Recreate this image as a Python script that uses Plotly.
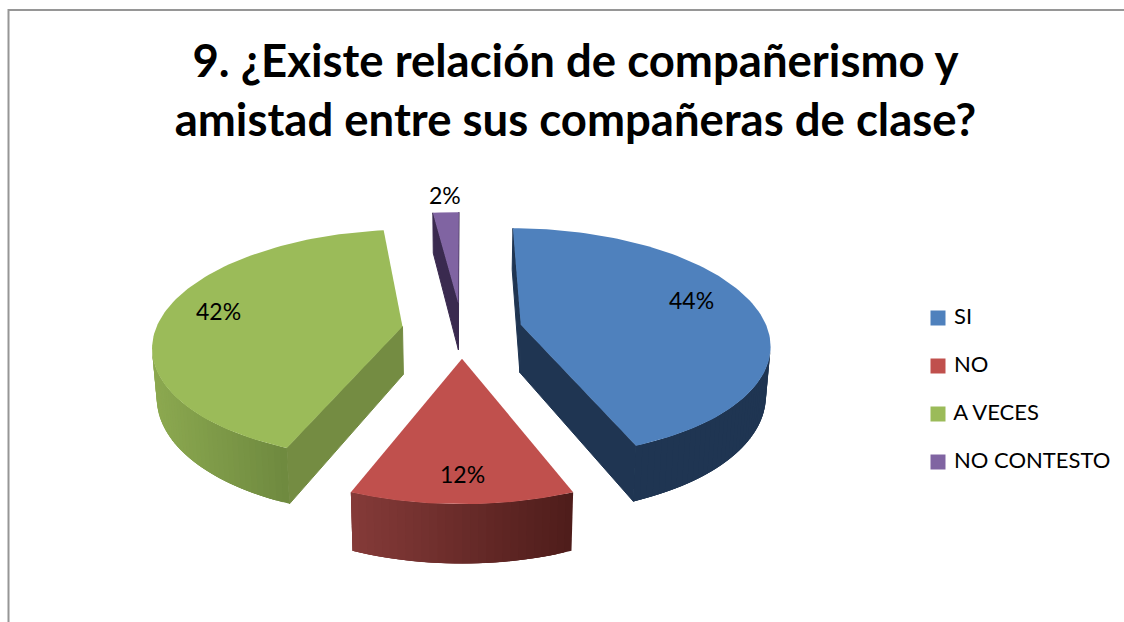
import math

import plotly.graph_objects as go

TITLE = "9. ¿Existe relación de compañerismo y<br>amistad entre sus compañeras de clase?"
CATEGORIES = ["SI", "NO", "A VECES", "NO CONTESTO"]
PERCENTS = [44, 12, 42, 2]
TOP_COLORS = ["#4F81BD", "#C0504D", "#9BBB59", "#8064A2"]
# side wall colours: flat for radial walls, (left, right) ramp along the rim
WALL_COLORS = ["#1F3552", "#6B2D2B", "#748C42", "#3A2A4F"]
RIM_RAMPS = [("#1F3552", "#1F3552"), ("#853B39", "#4E1C1A"),
             ("#8CA950", "#6E893F"), ("#3A2A4F", "#3A2A4F")]
# label centres in page pixels
LABEL_X = [691, 462, 218, 445]
LABEL_Y = [300, 474, 311, 195]
# legend rows in page pixels
LEGEND_X = 938
LEGEND_Y = [318, 366, 414, 462]

FONT = "Lato, Carlito, Calibri, sans-serif"

# pie projection, all in page pixels
CX, CY = 462, 330
RX, RY = 247, 113
EXPLODE = 0.244
PERSP = 0.155
DEPTH = 48
SHRINK = 0.985


def project(u, v, low=False):
    f = 1 / (1 - PERSP * v)
    x = RX * u * f
    y = RY * v * f
    if low:
        return CX + x * SHRINK, CY + y + DEPTH * f
    return CX + x, CY + y


def lerp_color(c1, c2, t):
    a = [int(c1[i:i + 2], 16) for i in (1, 3, 5)]
    b = [int(c2[i:i + 2], 16) for i in (1, 3, 5)]
    return "rgb(%d,%d,%d)" % tuple(round(p + (q - p) * t) for p, q in zip(a, b))


def faces_viewer(nu, nv, u, v):
    return nu * (0 - u) + nv * (1 / PERSP - v) > 0


def poly(points, color, edge=0):
    return go.Scatter(
        x=[p[0] for p in points] + [points[0][0]],
        y=[p[1] for p in points] + [points[0][1]],
        mode="lines",
        fill="toself",
        fillcolor=color,
        line=dict(color=color, width=edge),
        hoverinfo="skip",
        showlegend=False,
    )


def slice_traces(start, end, top, wall, ramp):
    mid = (start + end) / 2
    ou = EXPLODE * math.sin(mid)
    ov = -EXPLODE * math.cos(mid)

    def rim(a):
        return ou + math.sin(a), ov - math.cos(a)

    steps = max(4, int(math.degrees(end - start) / 1.5))
    angles = [start + (end - start) * i / steps for i in range(steps + 1)]

    traces = []
    # radial walls, with an edge so no white hairline shows next to the rim
    for a, nu, nv in [(start, -math.cos(start), -math.sin(start)),
                      (end, math.cos(end), math.sin(end))]:
        ru, rv = rim(a)
        if faces_viewer(nu, nv, (ou + ru) / 2, (ov + rv) / 2):
            traces.append(poly([project(ou, ov), project(ru, rv),
                                project(ru, rv, True), project(ou, ov, True)], wall, edge=1))
    # rim wall: each band runs on under the next one so no seams show
    vis = [a for a in zip(angles[:-1], angles[1:])
           if faces_viewer(math.sin(sum(a) / 2), -math.cos(sum(a) / 2), *rim(sum(a) / 2))]
    if vis:
        last = vis[-1][1]
        xs = [project(*rim(a0))[0] for a0, _ in vis] + [project(*rim(last))[0]]
        lo, hi = min(xs), max(xs)
        for a0, a1 in vis:
            far = min(last, a1 + 2 * (a1 - a0))
            arc = [a0 + (far - a0) * j / 4 for j in range(5)]
            xm = project(*rim((a0 + a1) / 2))[0]
            color = lerp_color(ramp[0], ramp[1], (xm - lo) / (hi - lo))
            traces.append(poly([project(*rim(a)) for a in arc]
                               + [project(*rim(a), True) for a in reversed(arc)], color))
    # top face
    traces.append(poly([project(ou, ov)] + [project(*rim(a)) for a in angles], top))
    return traces


fig = go.Figure()

total = sum(PERCENTS)
bounds = [0]
for p in PERCENTS:
    bounds.append(bounds[-1] + 2 * math.pi * p / total)

# back to front: purple, green, blue, red
for i in [3, 2, 0, 1]:
    fig.add_traces(slice_traces(bounds[i], bounds[i + 1], TOP_COLORS[i], WALL_COLORS[i], RIM_RAMPS[i]))

# key drawn as a trace: the native legend can't put the text this close to the swatch
for name, color, y in zip(CATEGORIES, TOP_COLORS, LEGEND_Y):
    fig.add_trace(go.Scatter(
        x=[LEGEND_X], y=[y], mode="markers+text", name=name, text=[" " + name],
        textposition="middle right",
        textfont=dict(family=FONT, size=22, color="#000000"),
        marker=dict(symbol="square", size=15, color=color),
        hoverinfo="name",
        showlegend=False,
    ))

annotations = [
    dict(x=x, y=y, text=f"{p}%", showarrow=False, xref="x", yref="y",
         font=dict(family=FONT, size=23, color="#000000"))
    for x, y, p in zip(LABEL_X, LABEL_Y, PERCENTS)
]

fig.update_layout(
    width=1124,
    height=622,
    margin=dict(l=0, r=0, t=0, b=0),
    paper_bgcolor="white",
    plot_bgcolor="white",
    title=dict(text=TITLE, x=0.512, xanchor="center", y=0.877, yanchor="middle",
               font=dict(family=FONT, size=45.5, color="#000000", weight="bold")),
    xaxis=dict(range=[0, 1124], visible=False, fixedrange=True),
    yaxis=dict(range=[622, 0], visible=False, fixedrange=True),
    annotations=annotations,
    shapes=[dict(type="path", path="M 8.5 622 L 8.5 10 L 1124 10", xref="x", yref="y",
                 line=dict(color="#969696", width=2))],
)

fig.write_html("out.html", config=dict(displayModeBar=False),
               post_script="document.body.style.margin = '0';")
